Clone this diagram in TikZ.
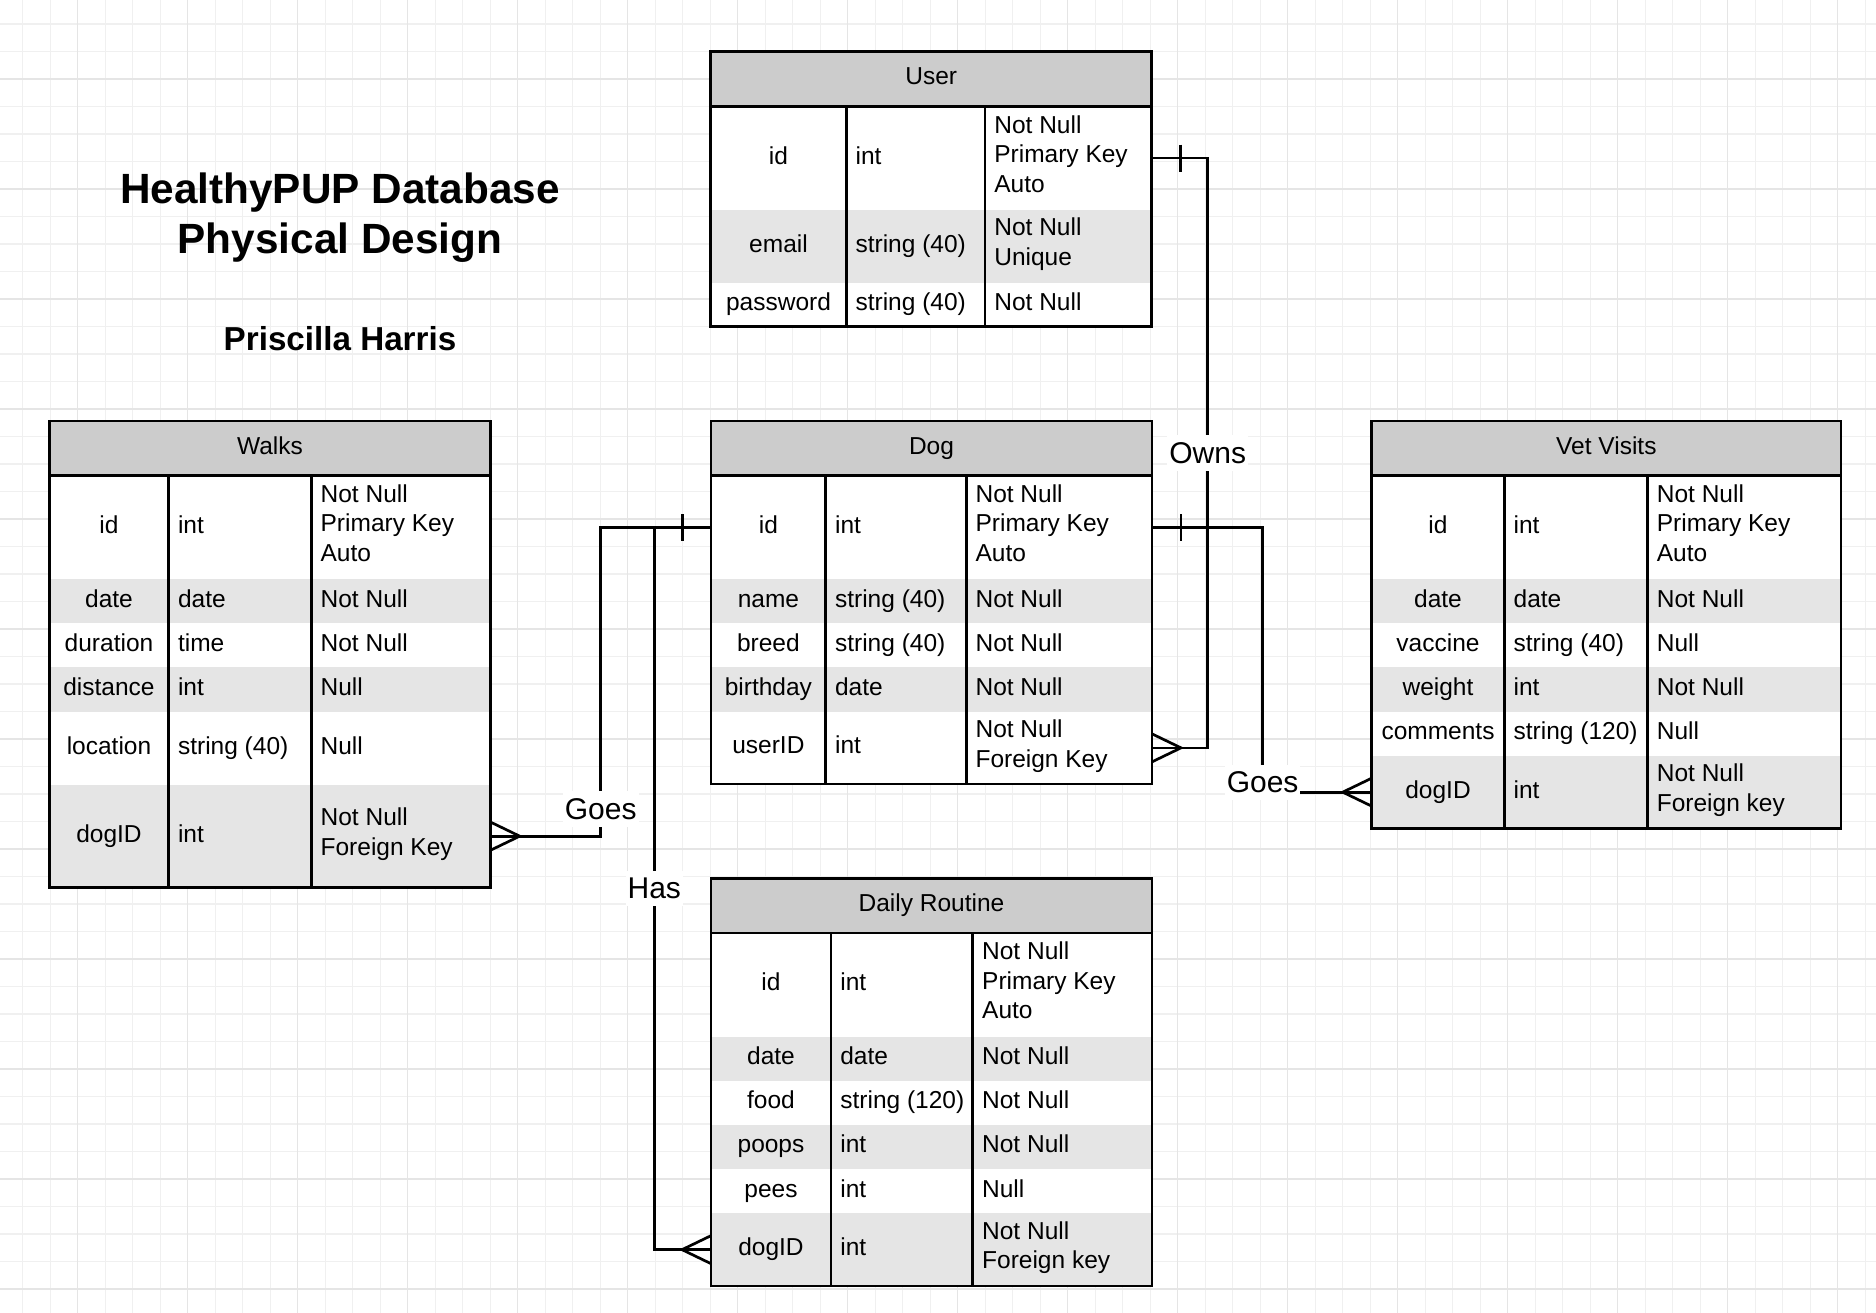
\documentclass[tikz,border=0pt]{standalone}
\usepackage{fontspec}
\setmainfont{Liberation Sans}
\usetikzlibrary{calc}

\definecolor{headgray}{RGB}{204,204,204}
\definecolor{rowgray}{RGB}{229,229,229}
\definecolor{gridminor}{RGB}{240,240,240}
\definecolor{gridmajor}{RGB}{229,229,229}

\tikzset{
  every picture/.append style={line width=2.7pt},
  every node/.append style={font=\fontsize{24.5}{29.5}\selectfont},
}
\tikzset{
  link/.style={line width=2.7pt, black},
  lbl/.style={fill=white, inner xsep=2pt, inner ysep=7pt, font=\fontsize{30}{36}\selectfont}
}

\begin{document}
\begin{tikzpicture}[
  x=1pt, y=-1pt,
  tblhead/.style={fill=headgray, anchor=north west, inner sep=0pt, outer sep=0pt, minimum height=54.7pt, execute at begin node=\strut},
  rowbox/.style={anchor=north west, inner sep=0pt, outer sep=0pt},
  tblframe/.style={draw, anchor=north west, inner sep=0pt, outer sep=0pt},
  fieldtext/.style={inner sep=0pt, execute at begin node=\strut},
  celltext/.style={anchor=west, align=left, inner sep=0pt, execute at begin node=\strut, execute at end node=\strut},
  titletext/.style={align=center, inner sep=0pt, font=\fontsize{42.3}{50}\selectfont\bfseries},
  authortext/.style={anchor=base, inner sep=0pt, font=\fontsize{33.2}{40}\selectfont\bfseries}
]
% Canvas and background grid
\useasboundingbox (0,0) rectangle (1876,1312);
\fill[white] (0,0) rectangle (1876,1312);
\draw[gridminor, line width=1.1pt, shift={(22.7,24)}] (-30,1300) grid[step=27.5pt] (1860,-30);
\draw[gridmajor, line width=1.4pt, shift={(77.7,79)}] (-120,1250) grid[step=110pt] (1810,-120);

% Title block
\node[titletext] (title) at (340,217.6) {HealthyPUP Database\\Physical Design};
\node[authortext] (author) at (340,350) {Priscilla Harris};

% User table
\node[tblhead, minimum width=441pt] (user-head) at (710.7,51.6) {User};
\foreach \fn/\ft/\fc/\rh/\bg [remember=\fn as \prev (initially head)] in {
    id/int/{Not Null\\Primary Key\\Auto}/103.6/white,
    email/string (40)/{Not Null\\Unique}/72.7/rowgray,
    password/string (40)/Not Null/44/white} {
  \node[rowbox, fill=\bg, minimum width=441pt, minimum height=\rh pt] (user-\fn) at (user-\prev.south west) {};
  \node[fieldtext] (user-\fn-n) at ($(user-\fn.west)+(67.8,0)$) {\fn};
  \node[celltext] (user-\fn-t) at ($(user-\fn.west)+(143.5,0)$) {\ft};
  \node[celltext] (user-\fn-c) at ($(user-\fn.west)+(282.3,0)$) {\fc};
  \draw ($(user-\fn.north west)+(135.5,0)$) -- ++(0,\rh);
  \draw ($(user-\fn.north west)+(274.3,0)$) -- ++(0,\rh);
}
\draw (user-head.south west) -- (user-head.south east);
\node[tblframe, minimum width=441pt, minimum height=275pt] (user) at (710.7,51.6) {};

% Dog table
\node[tblhead, minimum width=441pt] (dog-head) at (711,421) {Dog};
\foreach \fn/\ft/\fc/\rh/\bg [remember=\fn as \prev (initially head)] in {
    id/int/{Not Null\\Primary Key\\Auto}/103.6/white,
    name/string (40)/Not Null/44/rowgray,
    breed/string (40)/Not Null/44/white,
    birthday/date/Not Null/44.4/rowgray,
    userID/int/{Not Null\\Foreign Key}/72.3/white} {
  \node[rowbox, fill=\bg, minimum width=441pt, minimum height=\rh pt] (dog-\fn) at (dog-\prev.south west) {};
  \node[fieldtext] (dog-\fn-n) at ($(dog-\fn.west)+(57.4,0)$) {\fn};
  \node[celltext] (dog-\fn-t) at ($(dog-\fn.west)+(122.7,0)$) {\ft};
  \node[celltext] (dog-\fn-c) at ($(dog-\fn.west)+(263.2,0)$) {\fc};
  \draw ($(dog-\fn.north west)+(114.7,0)$) -- ++(0,\rh);
  \draw ($(dog-\fn.north west)+(255.2,0)$) -- ++(0,\rh);
}
\draw (dog-head.south west) -- (dog-head.south east);
\node[tblframe, minimum width=441pt, minimum height=363pt] (dog) at (711,421) {};

% Walks table
\node[tblhead, minimum width=441.4pt] (walks-head) at (49.3,421) {Walks};
\foreach \fn/\ft/\fc/\rh/\bg [remember=\fn as \prev (initially head)] in {
    id/int/{Not Null\\Primary Key\\Auto}/103.6/white,
    date/date/Not Null/44/rowgray,
    duration/time/Not Null/44/white,
    distance/int/Null/44.4/rowgray,
    location/string (40)/Null/73.3/white,
    dogID/int/{Not Null\\Foreign Key}/102.3/rowgray} {
  \node[rowbox, fill=\bg, minimum width=441.4pt, minimum height=\rh pt] (walks-\fn) at (walks-\prev.south west) {};
  \node[fieldtext] (walks-\fn-n) at ($(walks-\fn.west)+(59.7,0)$) {\fn};
  \node[celltext] (walks-\fn-t) at ($(walks-\fn.west)+(127.4,0)$) {\ft};
  \node[celltext] (walks-\fn-c) at ($(walks-\fn.west)+(270,0)$) {\fc};
  \draw ($(walks-\fn.north west)+(119.4,0)$) -- ++(0,\rh);
  \draw ($(walks-\fn.north west)+(262,0)$) -- ++(0,\rh);
}
\draw (walks-head.south west) -- (walks-head.south east);
\node[tblframe, minimum width=441.4pt, minimum height=466.3pt] (walks) at (49.3,421) {};

% Vet Visits table
\node[tblhead, minimum width=469.3pt] (vet-head) at (1371.7,421) {Vet Visits};
\foreach \fn/\ft/\fc/\rh/\bg [remember=\fn as \prev (initially head)] in {
    id/int/{Not Null\\Primary Key\\Auto}/103.6/white,
    date/date/Not Null/44/rowgray,
    vaccine/string (40)/Null/44/white,
    weight/int/Not Null/44.4/rowgray,
    comments/string (120)/Null/44.3/white,
    dogID/int/{Not Null\\Foreign key}/72.3/rowgray} {
  \node[rowbox, fill=\bg, minimum width=469.3pt, minimum height=\rh pt] (vet-\fn) at (vet-\prev.south west) {};
  \node[fieldtext] (vet-\fn-n) at ($(vet-\fn.west)+(66.3,0)$) {\fn};
  \node[celltext] (vet-\fn-t) at ($(vet-\fn.west)+(140.6,0)$) {\ft};
  \node[celltext] (vet-\fn-c) at ($(vet-\fn.west)+(283.8,0)$) {\fc};
  \draw ($(vet-\fn.north west)+(132.6,0)$) -- ++(0,\rh);
  \draw ($(vet-\fn.north west)+(275.6,0)$) -- ++(0,\rh);
}
\draw (vet-head.south west) -- (vet-head.south east);
\node[tblframe, minimum width=469.3pt, minimum height=407.3pt] (vet) at (1371.7,421) {};

% Daily Routine table
\node[tblhead, minimum width=441pt] (daily-head) at (711,878.3) {Daily Routine};
\foreach \fn/\ft/\fc/\rh/\bg [remember=\fn as \prev (initially head)] in {
    id/int/{Not Null\\Primary Key\\Auto}/103.7/white,
    date/date/Not Null/44/rowgray,
    food/string (120)/Not Null/44.3/white,
    poops/int/Not Null/44/rowgray,
    pees/int/Null/44.3/white,
    dogID/int/{Not Null\\Foreign key}/72.7/rowgray} {
  \node[rowbox, fill=\bg, minimum width=441pt, minimum height=\rh pt] (daily-\fn) at (daily-\prev.south west) {};
  \node[fieldtext] (daily-\fn-n) at ($(daily-\fn.west)+(60,0)$) {\fn};
  \node[celltext] (daily-\fn-t) at ($(daily-\fn.west)+(128,0)$) {\ft};
  \node[celltext] (daily-\fn-c) at ($(daily-\fn.west)+(269.8,0)$) {\fc};
  \draw ($(daily-\fn.north west)+(120,0)$) -- ++(0,\rh);
  \draw ($(daily-\fn.north west)+(261.8,0)$) -- ++(0,\rh);
}
\draw (daily-head.south west) -- (daily-head.south east);
\node[tblframe, minimum width=441pt, minimum height=407.7pt] (daily) at (711,878.3) {};

% Owns: User.id to Dog.userID
\draw[link] (user.east |- user-id) -- ++(56,0) |- node[lbl, pos=0.25] (owns) {Owns} (dog.east |- dog-userID);
\draw[link] (user.east |- user-id) ++(29,-13.5) -- ++(0,27);
\draw[link] ($(dog.east |- dog-userID)+(0,-14)$) -- ++(29,14) -- ++(-29,14);

% Goes: Dog.id to Vet Visits.dogID
\draw[link] (dog.east |- dog-id) -- ++(110.6,0) |- node[lbl, pos=0.5, yshift=10pt] (goes-vet) {Goes} (vet.west |- vet-dogID);
\draw[link] (dog.east |- dog-id) ++(29,-13.5) -- ++(0,27);
\draw[link] ($(vet.west |- vet-dogID)+(0,-14)$) -- ++(-29,14) -- ++(29,14);

% Goes: Dog.id to Walks.dogID
\draw[link] (dog.west |- dog-id) -- ++(-110.3,0) |- node[lbl, pos=0.456] (goes-walks) {Goes} (walks.east |- walks-dogID);
\draw[link] ($(walks.east |- walks-dogID)+(0,-14)$) -- ++(29,14) -- ++(-29,14);

% Has: Dog.id to Daily Routine.dogID
\draw[link] (dog.west |- dog-id) -- ++(-56.7,0) |- node[lbl, pos=0.25] (has) {Has} (daily.west |- daily-dogID);
\draw[link] (dog.west |- dog-id) ++(-28.7,-13.5) -- ++(0,27);
\draw[link] ($(daily.west |- daily-dogID)+(0,-14)$) -- ++(-29,14) -- ++(29,14);

\end{tikzpicture}
\end{document}
